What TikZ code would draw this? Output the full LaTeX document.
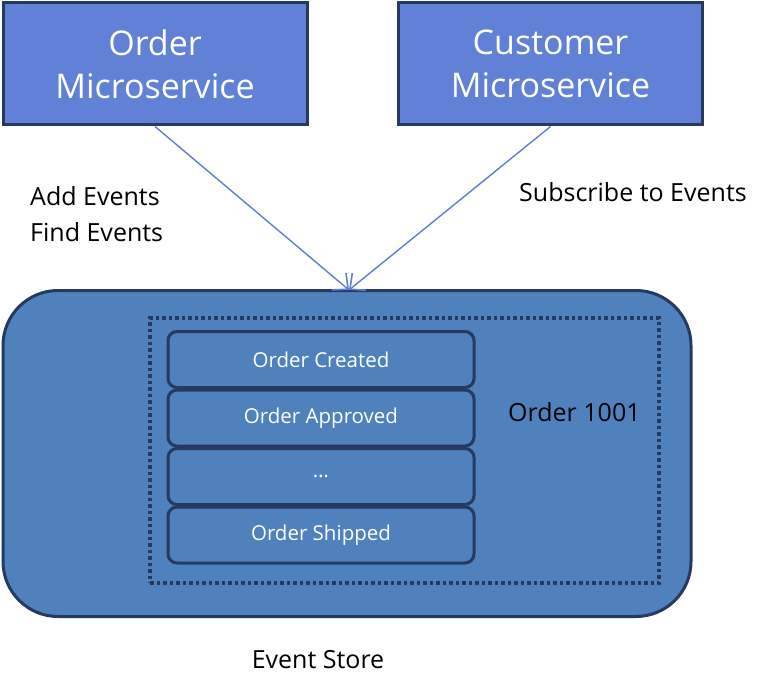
\documentclass[tikz,border=0pt]{standalone}
\usepackage{fontspec}
\setmainfont{Open Sans}
\usepackage{tikz}
\usetikzlibrary{arrows.meta,positioning,calc}
\definecolor{svcblue}{RGB}{96,129,214}
\definecolor{storeblue}{RGB}{79,129,189}
\definecolor{darkline}{RGB}{38,57,95}
\definecolor{arrowblue}{RGB}{92,126,212}

\begin{document}
\begin{tikzpicture}[x=1pt, y=-1pt,
    svcbox/.style={draw=darkline, line width=3pt, fill=svcblue, text=white,
        minimum width=304pt, minimum height=122pt, align=center,
        font=\fontsize{34}{43}\selectfont},
    evbox/.style={draw=darkline, line width=3pt, fill=storeblue, text=white,
        rounded corners=9pt, minimum width=306pt, minimum height=56pt,
        font=\fontsize{20.5}{24}\selectfont},
    plain/.style={font=\fontsize{25}{36}\selectfont, inner sep=0pt},
    flow/.style={arrowblue, line width=1.4pt, -{Straight Barb[length=12pt,width=22pt,line width=1.6pt]}}]
    \useasboundingbox (0,0) rectangle (770,695);

    % Microservices
    \node[svcbox] (ordersvc) at (155,64) {Order\\Microservice};
    \node[svcbox] (customersvc) at (550.5,64) {Customer\\Microservice};

    % Event store
    \node[draw=darkline, line width=3pt, fill=storeblue, rounded corners=55pt,
        minimum width=688pt, minimum height=326pt] (store) at (347,453.5) {};
    \node[draw=darkline, line width=3.5pt, dash pattern=on 3.5pt off 3pt,
        minimum width=509pt, minimum height=265pt] (aggregate) at (404.5,450.5) {};

    % Events of order 1001
    \foreach \i/\txt in {1/Order Created, 2/Order Approved, 3/{\dots}, 4/Order Shipped} {
        \pgfmathsetmacro{\y}{359.5 + (\i-1)*58.5}
        \node[evbox] (ev\i) at (321,\y) {\txt};
    }

    % Labels
    \node[plain, anchor=west] (ordlabel) at (508,412) {Order 1001};
    \node[plain, anchor=west, align=left] (oplabel) at (30,214) {Add Events\\Find Events};
    \node[plain, anchor=west] (sublabel) at (519,192) {Subscribe to Events};
    \node[plain] (storelabel) at (318,660) {Event Store};

    % Connectors
    \coordinate (tip) at (349,290);
    \draw[flow] (ordersvc.south) -- (tip);
    \draw[flow] (customersvc.south) -- (tip);

\end{tikzpicture}
\end{document}
